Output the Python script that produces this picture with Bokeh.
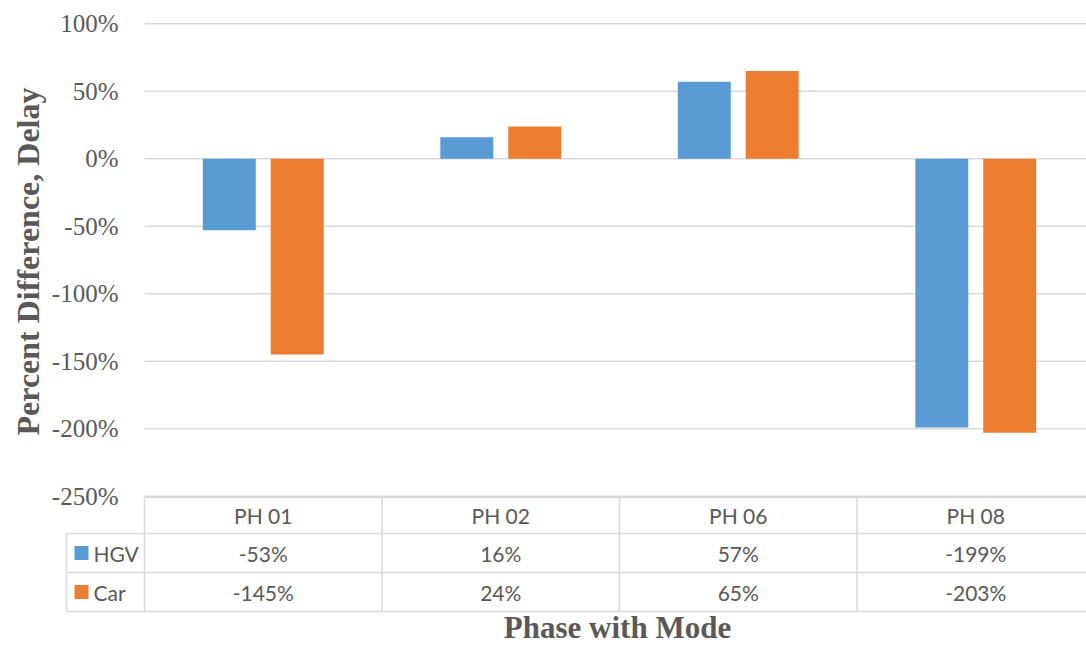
from math import pi
from bokeh.plotting import figure
from bokeh.models import Range1d, ColumnDataSource
from bokeh.transform import dodge
from bokeh.core.properties import value
from bokeh.embed import file_html
from bokeh.resources import INLINE

# ---- data ----
categories = ["PH 01", "PH 02", "PH 06", "PH 08"]
series = ["HGV", "Car"]
hgv = [-53, 16, 57, -199]
car = [-145, 24, 65, -203]
colors = ["#5B9BD5", "#ED7D31"]
y_ticks = [100, 50, 0, -50, -100, -150, -200, -250]
y_tick_labels = ["100%", "50%", "0%", "-50%", "-100%", "-150%", "-200%", "-250%"]
y_title = "Percent Difference, Delay"
x_title = "Phase with Mode"

W, H = 1086, 646
GRAY = "#595959"
GRID = "#d9d9d9"
SERIF = value("Liberation Serif")
SANS = value("Lato")
CAT_PX = 237.5
LEFT_PX = 144

n = len(categories)
xpos = [i + 0.5 for i in range(n)]

p = figure(width=W, height=H, output_backend="svg", toolbar_location=None,
           x_range=Range1d(-LEFT_PX / CAT_PX, (W - LEFT_PX) / CAT_PX),
           y_range=Range1d(-361.26, 117.26),
           x_axis_location=None, y_axis_location=None, min_border=0)
p.extra_x_ranges = {"px": Range1d(0, W)}
p.extra_y_ranges = {"px": Range1d(H, 0)}
p.grid.visible = False
p.outline_line_color = None
p.background_fill_color = "white"
p.border_fill_color = "white"

# horizontal gridlines
p.segment(x0=[0] * len(y_ticks), x1=[n] * len(y_ticks), y0=y_ticks, y1=y_ticks,
          line_color=GRID, line_width=1.5)

# bars
src = ColumnDataSource(dict(x=xpos, hgv=hgv, car=car))
p.vbar(x=dodge("x", -0.143, range=p.x_range), top="hgv", bottom=0, width=0.223,
       source=src, fill_color=colors[0], line_color=None)
p.vbar(x=dodge("x", 0.143, range=p.x_range), top="car", bottom=0, width=0.223,
       source=src, fill_color=colors[1], line_color=None)

# y tick labels
p.text(x=[118] * len(y_ticks), y=y_ticks, text=y_tick_labels, x_range_name="px",
       text_font=SERIF, text_font_size="25px", text_color=GRAY,
       text_align="right", text_baseline="middle")

# ---- data table under the plot ----
row_y = [497, 533, 572, 611]  # header top, header bottom, row1 bottom, row2 bottom (px)
p.segment(x0=[LEFT_PX, 66, 66, 66], x1=[W, W, W, W], y0=row_y, y1=row_y,
          x_range_name="px", y_range_name="px", line_color=GRID, line_width=1.5)
p.segment(x0=list(range(n + 1)), x1=list(range(n + 1)), y0=[row_y[0]] * (n + 1),
          y1=[row_y[3]] * (n + 1), y_range_name="px", line_color=GRID, line_width=1.5)
p.segment(x0=[66], x1=[66], y0=[row_y[1]], y1=[row_y[3]], x_range_name="px",
          y_range_name="px", line_color=GRID, line_width=1.5)

hdr_y = (row_y[0] + row_y[1]) / 2
r1_y = (row_y[1] + row_y[2]) / 2
r2_y = (row_y[2] + row_y[3]) / 2
for yy, labels in ((hdr_y, categories),
                   (r1_y, [f"{v}%" for v in hgv]),
                   (r2_y, [f"{v}%" for v in car])):
    p.text(x=xpos, y=[yy] * n, text=labels, y_range_name="px",
           text_font=SANS, text_font_size="21px", text_color=GRAY,
           text_align="center", text_baseline="middle")

# legend keys in table
p.rect(x=[81, 81], y=[r1_y, r2_y], width=14, height=14, width_units="screen",
       height_units="screen", x_range_name="px", y_range_name="px",
       fill_color=colors, line_color=None)
p.text(x=[93, 93], y=[r1_y, r2_y], text=series, x_range_name="px", y_range_name="px",
       text_font=SANS, text_font_size="21px", text_color=GRAY,
       text_align="left", text_baseline="middle")

# axis titles
p.text(x=[27], y=[261], text=[y_title], angle=pi / 2, x_range_name="px",
       y_range_name="px", text_font=SERIF, text_font_size="32px",
       text_font_style="bold", text_color=GRAY, text_align="center",
       text_baseline="middle")
p.text(x=[617], y=[627], text=[x_title], x_range_name="px", y_range_name="px",
       text_font=SERIF, text_font_size="31px", text_font_style="bold",
       text_color=GRAY, text_align="center", text_baseline="middle")

open("out.html", "w").write(file_html(p, INLINE))
